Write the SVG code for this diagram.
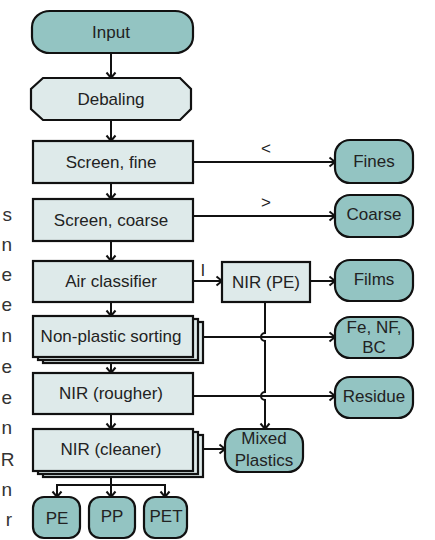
<svg xmlns="http://www.w3.org/2000/svg" width="435" height="540" viewBox="0 0 435 540">
  <style>
    .term { fill: #93c4c2; stroke: #111; stroke-width: 2.2; }
    .proc { fill: #deeaea; stroke: #111; stroke-width: 2.2; }
    .lbl { font-family: "Liberation Sans", Arial, sans-serif; font-size: 17px; fill: #222; text-anchor: middle; }
    .side { font-family: "Liberation Sans", Arial, sans-serif; font-size: 19px; fill: #333; text-anchor: end; }
    .wire { fill: none; stroke: #111; stroke-width: 2; }
  </style>
  <defs>
    <marker id="arrow" markerUnits="userSpaceOnUse" markerWidth="10" markerHeight="12" refX="7" refY="6" orient="auto">
      <path d="M1.5,1.5 L7,6 L1.5,10.5" fill="none" stroke="#111" stroke-width="2"/>
    </marker>
  </defs>

  <rect width="435" height="540" fill="#fff"/>

  <!-- right edges of the neighbouring paragraph -->
  <g id="side-text">
    <text class="side" x="12" y="221">s</text>
    <text class="side" x="12" y="251">n</text>
    <text class="side" x="12" y="281">e</text>
    <text class="side" x="12" y="311">e</text>
    <text class="side" x="12" y="342">n</text>
    <text class="side" x="12" y="373">e</text>
    <text class="side" x="12" y="404">e</text>
    <text class="side" x="12" y="434">n</text>
    <text class="side" x="14.5" y="466">R</text>
    <text class="side" x="12" y="496">n</text>
    <text class="side" x="12" y="526">r</text>
  </g>

  <!-- connectors -->
  <g id="connectors">
    <line class="wire" x1="111" y1="53" x2="111" y2="78" marker-end="url(#arrow)"/>
    <line class="wire" x1="111" y1="120" x2="111" y2="141" marker-end="url(#arrow)"/>
    <line class="wire" x1="111" y1="183" x2="111" y2="199" marker-end="url(#arrow)"/>
    <line class="wire" x1="111" y1="241" x2="111" y2="261" marker-end="url(#arrow)"/>
    <line class="wire" x1="111" y1="302" x2="111" y2="316" marker-end="url(#arrow)"/>
    <line class="wire" x1="111" y1="357" x2="111" y2="373" marker-end="url(#arrow)"/>
    <line class="wire" x1="111" y1="414" x2="111" y2="429" marker-end="url(#arrow)"/>
    <!-- cleaner fan-out to product streams -->
    <line class="wire" x1="111" y1="470" x2="111" y2="485"/>
    <line class="wire" x1="56" y1="485" x2="166" y2="485"/>
    <line class="wire" x1="57" y1="485" x2="57" y2="497" marker-end="url(#arrow)"/>
    <line class="wire" x1="111" y1="485" x2="111" y2="497" marker-end="url(#arrow)"/>
    <line class="wire" x1="165" y1="485" x2="165" y2="497" marker-end="url(#arrow)"/>

    <line class="wire" x1="193" y1="162" x2="335" y2="162" marker-end="url(#arrow)"/>
    <text class="lbl" x="266" y="154">&lt;</text>
    <line class="wire" x1="193" y1="216" x2="335" y2="216" marker-end="url(#arrow)"/>
    <text class="lbl" x="266" y="208">&gt;</text>
    <line class="wire" x1="193" y1="281" x2="222" y2="281" marker-end="url(#arrow)"/>
    <text class="lbl" x="203" y="276">l</text>
    <line class="wire" x1="310" y1="281" x2="335" y2="281" marker-end="url(#arrow)"/>
    <line class="wire" x1="203" y1="337" x2="335" y2="337" marker-end="url(#arrow)"/>
    <line class="wire" x1="193" y1="396" x2="335" y2="396" marker-end="url(#arrow)"/>
    <line class="wire" x1="203" y1="449" x2="225" y2="449" marker-end="url(#arrow)"/>
    <!-- NIR (PE) rejects hop over the two side streams -->
    <path class="wire" d="M265,302 L265,333 A4,4 0 0 0 265,341 L265,392 A4,4 0 0 0 265,400 L265,429" marker-end="url(#arrow)"/>
  </g>

  <g id="input">
    <rect class="term" x="32" y="11" width="161" height="42" rx="18" ry="16"/>
    <text class="lbl" x="111" y="38">Input</text>
  </g>
  <g id="debaling">
    <polygon class="proc" points="43,78 180,78 191,89 191,109 180,120 43,120 31,109 31,89"/>
    <text class="lbl" x="111" y="105">Debaling</text>
  </g>
  <g id="screen-fine">
    <rect class="proc" x="33" y="141" width="160" height="42"/>
    <text class="lbl" x="111" y="168">Screen, fine</text>
  </g>
  <g id="screen-coarse">
    <rect class="proc" x="33" y="199" width="160" height="42"/>
    <text class="lbl" x="111" y="226">Screen, coarse</text>
  </g>
  <g id="air-classifier">
    <rect class="proc" x="33" y="261" width="160" height="41"/>
    <text class="lbl" x="111" y="287">Air classifier</text>
  </g>
  <g id="non-plastic">
    <rect class="proc" x="43" y="322" width="160" height="41"/>
    <rect class="proc" x="38" y="319" width="160" height="41"/>
    <rect class="proc" x="33" y="316" width="160" height="41"/>
    <text class="lbl" x="111" y="342">Non-plastic sorting</text>
  </g>
  <g id="nir-rougher">
    <rect class="proc" x="33" y="373" width="160" height="41"/>
    <text class="lbl" x="111" y="399">NIR (rougher)</text>
  </g>
  <g id="nir-cleaner">
    <rect class="proc" x="43" y="435" width="160" height="42"/>
    <rect class="proc" x="38" y="432" width="160" height="42"/>
    <rect class="proc" x="33" y="429" width="160" height="42"/>
    <text class="lbl" x="111" y="455">NIR (cleaner)</text>
  </g>
  <g id="pe">
    <rect class="term" x="33" y="497" width="47" height="41" rx="11"/>
    <text class="lbl" x="57" y="524">PE</text>
  </g>
  <g id="pp">
    <rect class="term" x="89" y="497" width="46" height="41" rx="11"/>
    <text class="lbl" x="112" y="522">PP</text>
  </g>
  <g id="pet">
    <rect class="term" x="144" y="497" width="43" height="41" rx="11"/>
    <text class="lbl" x="166" y="522">PET</text>
  </g>

  <g id="fines">
    <rect class="term" x="335" y="140" width="78" height="43" rx="15"/>
    <text class="lbl" x="374" y="167">Fines</text>
  </g>
  <g id="coarse">
    <rect class="term" x="335" y="195" width="78" height="42" rx="15"/>
    <text class="lbl" x="374" y="220">Coarse</text>
  </g>
  <g id="nir-pe">
    <rect class="proc" x="222" y="262" width="88" height="40"/>
    <text class="lbl" x="266" y="288">NIR (PE)</text>
  </g>
  <g id="films">
    <rect class="term" x="335" y="260" width="78" height="41" rx="15"/>
    <text class="lbl" x="374" y="285">Films</text>
  </g>
  <g id="fe-nf-bc">
    <rect class="term" x="335" y="317" width="78" height="41" rx="15"/>
    <text class="lbl" x="374" y="333">Fe, NF,</text>
    <text class="lbl" x="374" y="353">BC</text>
  </g>
  <g id="residue">
    <rect class="term" x="335" y="377" width="78" height="41" rx="15"/>
    <text class="lbl" x="374" y="402">Residue</text>
  </g>
  <g id="mixed-plastics">
    <rect class="term" x="225" y="429" width="78" height="43" rx="15"/>
    <text class="lbl" x="264" y="444">Mixed</text>
    <text class="lbl" x="264" y="466">Plastics</text>
  </g>
</svg>
